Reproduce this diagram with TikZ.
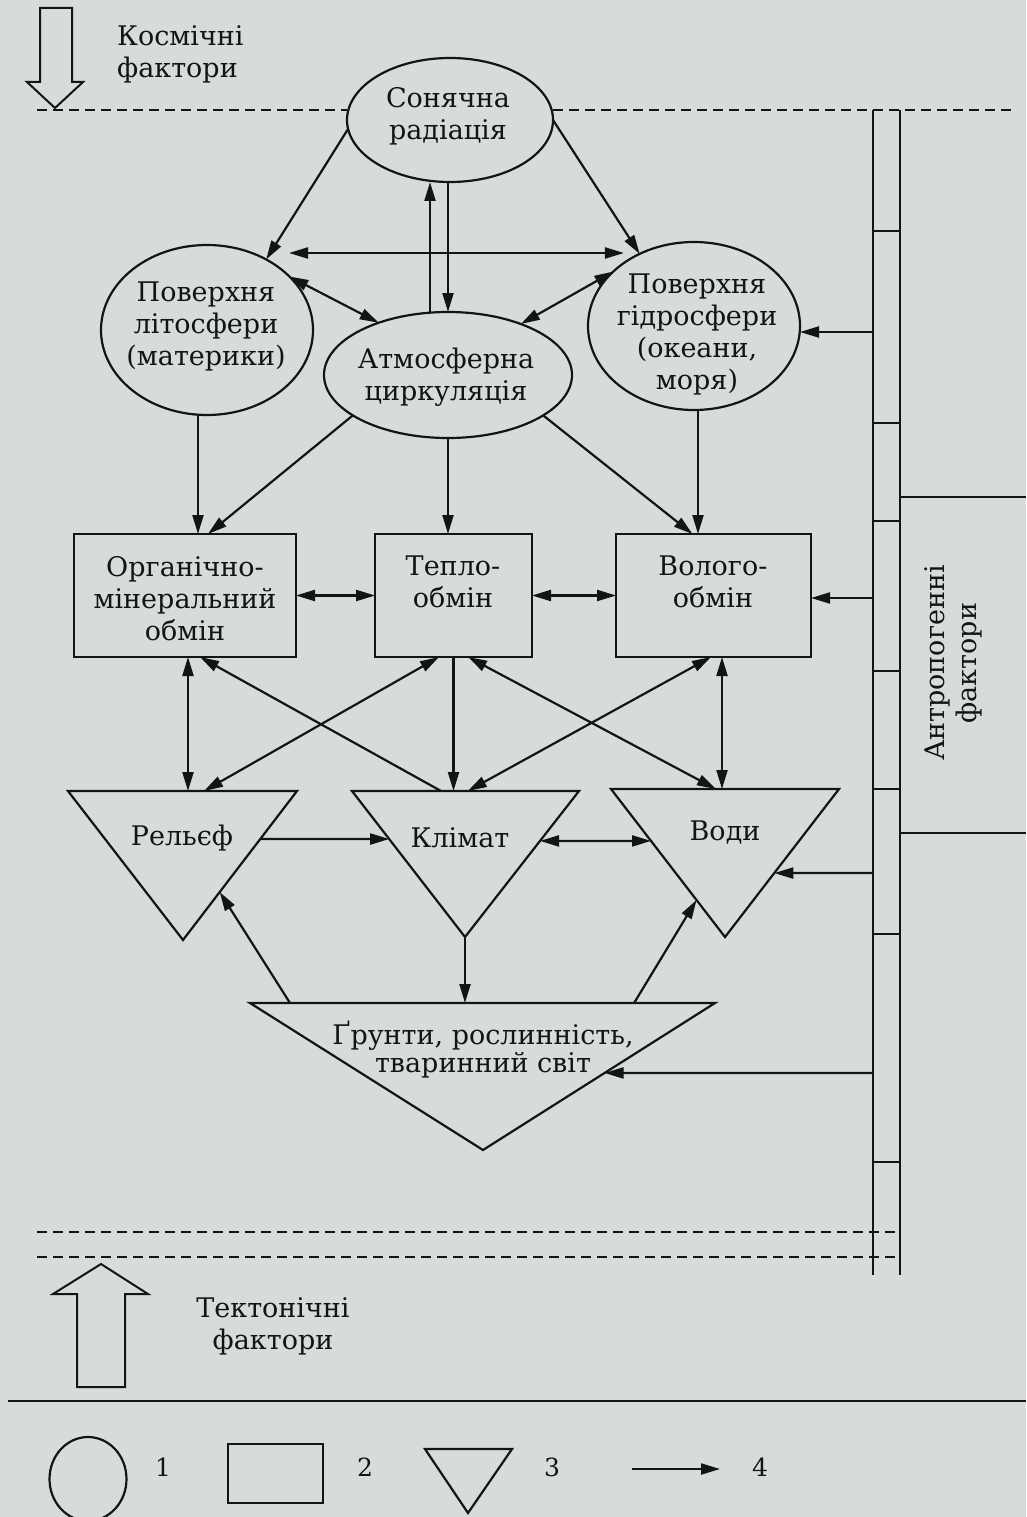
\documentclass[tikz,border=0pt]{standalone}
\usepackage{fontspec}
\setmainfont{DejaVu Serif}
\usetikzlibrary{arrows.meta,shapes.geometric,calc}
\definecolor{paper}{RGB}{214,221,217}
\definecolor{ink}{RGB}{20,20,20}
\begin{document}
\begin{tikzpicture}[x=1pt,y=-1pt,
  ln/.style={draw=ink, line width=2.2pt},
  arr/.style={ln, -{Triangle[length=19pt,width=11pt]}},
  darr/.style={ln, {Triangle[length=19pt,width=11pt]}-{Triangle[length=19pt,width=11pt]}},
  ell/.style={ellipse, draw=ink, line width=2.2pt, inner sep=0pt, outer sep=0pt},
  boxn/.style={rectangle, draw=ink, line width=2.2pt, inner sep=0pt, outer sep=0pt},
  lbl/.style={align=center, text=ink, font=\fontsize{27}{32}\selectfont, inner sep=0pt},
  num/.style={text=ink, font=\fontsize{25}{28}\selectfont, inner sep=0pt},
  dsh/.style={draw=ink, line width=2pt, dash pattern=on 10pt off 6pt},
  tri/.style={ln, line join=miter},
]
\useasboundingbox (0,0) rectangle (1026,1517);
\clip (0,0) rectangle (1026,1517);
\fill[paper] (0,0) rectangle (1026,1517);

% ---------- ellipses ----------
\node[ell, minimum width=206pt, minimum height=124pt] (S) at (450,120) {};
\node[ell, minimum width=212pt, minimum height=170pt] (L) at (207,330) {};
\node[ell, minimum width=248pt, minimum height=126pt] (A) at (448,375) {};
\node[ell, minimum width=212pt, minimum height=168pt] (H) at (694,326) {};
\node[lbl] (St) at (448,116) {Сонячна\\радіація};
\node[lbl] (Lt) at (206,326) {Поверхня\\літосфери\\(материки)};
\node[lbl] (At) at (446,377) {Атмосферна\\циркуляція};
\node[lbl] (Ht) at (697,334) {Поверхня\\гідросфери\\(океани,\\моря)};

% ---------- boxes ----------
\node[boxn, minimum width=222pt, minimum height=123pt] (Org) at (185,595.5) {};
\node[boxn, minimum width=157pt, minimum height=123pt] (T) at (453.5,595.5) {};
\node[boxn, minimum width=195pt, minimum height=123pt] (V) at (713.5,595.5) {};
\node[lbl] (Orgt) at (185,599) {Органічно-\\мінеральний\\обмін};
\node[lbl] (Tt) at (453,582) {Тепло-\\обмін};
\node[lbl] (Vt) at (713,582) {Волого-\\обмін};

% ---------- triangles ----------
\coordinate (rtl) at (68,791);  \coordinate (rtr) at (297,791); \coordinate (rb) at (183,940);
\coordinate (ktl) at (352,791); \coordinate (ktr) at (579,791); \coordinate (kb) at (465,937);
\coordinate (vtl) at (611,789); \coordinate (vtr) at (839,789); \coordinate (vb) at (725,937);
\coordinate (gtl) at (250,1003); \coordinate (gtr) at (715,1003); \coordinate (gb) at (483,1150);
\draw[tri] (rtl) -- (rtr) -- (rb) -- cycle;
\draw[tri] (ktl) -- (ktr) -- (kb) -- cycle;
\draw[tri] (vtl) -- (vtr) -- (vb) -- cycle;
\draw[tri] (gtl) -- (gtr) -- (gb) -- cycle;
\node[lbl] (Rt) at (182,838) {Рельєф};
\node[lbl] (Kt) at (460,838) {Клімат};
\node[lbl] (Wt) at (725,833) {Води};
\node[lbl, font=\fontsize{27}{28}\selectfont] (Gt) at (483,1050) {Ґрунти, рослинність,\\тваринний світ};

% ---------- upper connectors ----------
\draw[arr] (S.185) -- (L.50);
\draw[arr] (S.0) -- (H.127);
\draw[arr] ([xshift=-18pt]A.north) -- ([xshift=-18pt]A.north |- S.south);
\draw[arr] (S.south -| A.north) -- (A.north);
\coordinate (lh) at (289,253);
\draw[darr] (lh) -- (lh -| H.138);
\draw[darr] (L.33) -- (A.143);
\draw[darr] (H.146) -- (A.35);

% ---------- middle connectors ----------
\draw[arr] ([xshift=-9pt]L.south) -- ([xshift=-9pt]L.south |- Org.north);
\draw[arr] (A.203) -- ([xshift=23pt]Org.north);
\draw[arr] (A.south) -- (A.south |- T.north);
\draw[arr] (A.337) -- ([xshift=-21pt]V.north);
\draw[arr] ([xshift=4pt]H.south) -- ([xshift=4pt]H.south |- V.north);
\draw[darr] (Org.east) -- (T.west);
\draw[darr] (T.east) -- (V.west);

% ---------- lower connectors ----------
\draw[darr] ([xshift=3pt]Org.south) -- ([xshift=3pt]Org.south |- rtl);
\draw[arr] ($(ktl)!0.392!(ktr)$) -- ([xshift=15pt]Org.south);
\draw[darr] ([xshift=-14.5pt]T.south) -- ($(rtl)!0.594!(rtr)$);
\draw[arr] (T.south) -- (T.south |- ktl);
\draw[darr] ([xshift=14.5pt]T.south) -- ($(vtl)!0.46!(vtr)$);
\draw[darr] ([xshift=-2.5pt]V.south) -- ($(ktl)!0.51!(ktr)$);
\draw[darr] ([xshift=8.5pt]V.south) -- ([xshift=8.5pt]V.south |- vtl);
\draw[arr] ($(rtr)!0.322!(rb)$) -- ($(ktl)!0.329!(kb)$);
\draw[darr] ($(ktr)!0.342!(kb)$) -- ($(vtl)!0.351!(vb)$);
\draw[arr] (kb) -- (kb |- gtl);
\draw[arr] ($(gtl)!0.086!(gtr)$) -- ($(rtr)!0.678!(rb)$);
\draw[arr] ($(gtl)!0.826!(gtr)$) -- ($(vtl)!0.75!(vb)$);

% ---------- anthropogenic ladder ----------
\coordinate (LLt) at (873,110); \coordinate (LLb) at (873,1275);
\coordinate (LRt) at (900,110); \coordinate (LRb) at (900,1275);
\draw[ln] (LLt) -- (LLb);
\draw[ln] (LRt) -- (LRb);
\foreach \yy in {231,423,521,671,789,934,1162} \draw[ln, line width=1.8pt] (873,\yy) -- (900,\yy);
\draw[ln, line width=1.8pt] (900,497) -- (1026,497);
\draw[ln, line width=1.8pt] (900,833) -- (1026,833);
\node[lbl, rotate=90] (Ant) at (953,663) {Антропогенні\\фактори};
\coordinate (p1) at (873,332);
\coordinate (p2) at (873,598);
\coordinate (p3) at (873,873);
\coordinate (p4) at (873,1073);
\draw[arr] (p1) -- (p1 -| H.east);
\draw[arr] (p2) -- (p2 -| V.east);
\draw[arr] (p3) -- ($(vtr)!0.568!(vb)$);
\draw[arr] (p4) -- ($(gtr)!0.476!(gb)$);

% ---------- dashed boundaries ----------
\draw[dsh] (37,110) -- (S.west |- 0,110);
\draw[dsh] (553,110) -- (1013,110);
\draw[dsh] (37,1232) -- (900,1232);
\draw[dsh] (37,1257) -- (900,1257);
\draw[ln, line width=2pt] (8,1401) -- (1026,1401);

% ---------- cosmic and tectonic block arrows ----------
\draw[ln, line width=2pt, line join=miter] (40,8) -- (72,8) -- (72,82) -- (83,82) -- (55,108) -- (27,82) -- (40,82) -- cycle;
\node[lbl, align=left, anchor=west] (Kos) at (117,54) {Космічні\\фактори};
\draw[ln, line width=2pt, line join=miter] (77,1387) -- (77,1294) -- (53,1294) -- (101,1264) -- (148,1294) -- (125,1294) -- (125,1387) -- cycle;
\node[lbl] (Tek) at (273,1326) {Тектонічні\\фактори};

% ---------- legend ----------
\node[ell, minimum width=77pt, minimum height=84pt] (lg1) at (88,1479) {};
\node[num] (n1) at (163,1467) {1};
\node[boxn, minimum width=95pt, minimum height=59pt] (lg2) at (275.5,1473.5) {};
\node[num] (n2) at (365,1467) {2};
\draw[tri] (425,1449) -- (512,1449) -- (468,1513) -- cycle;
\node[num] (n3) at (552,1467) {3};
\coordinate (la) at (632,1469); \coordinate (lb) at (720,1469);
\draw[arr] (la) -- (lb);
\node[num] (n4) at (760,1467) {4};
\end{tikzpicture}
\end{document}
